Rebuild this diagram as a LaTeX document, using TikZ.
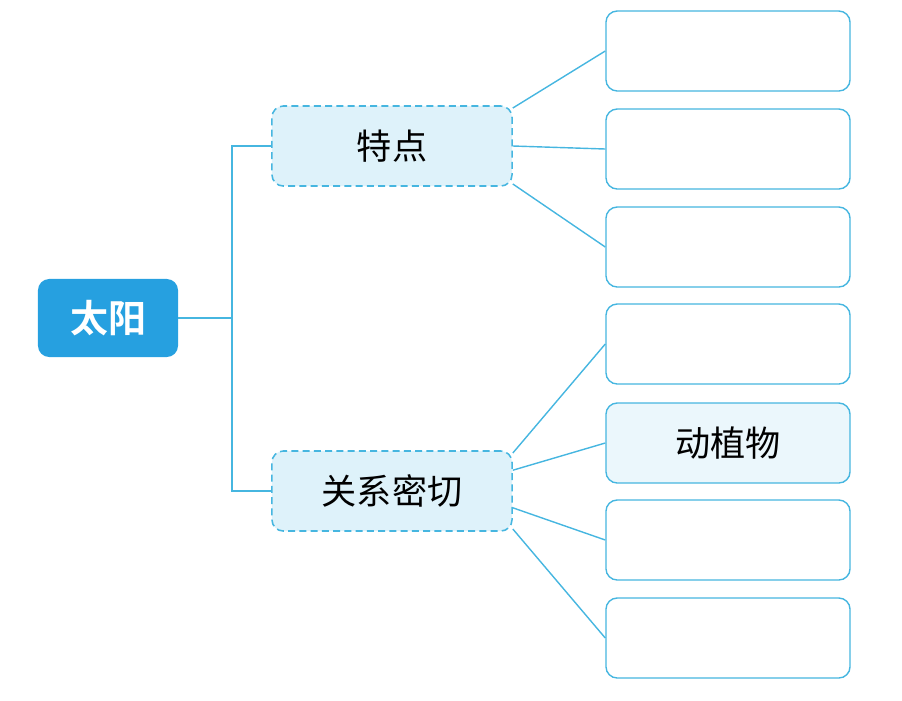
\documentclass[tikz,border=0pt]{standalone}
\usepackage{fontspec}
\newfontfamily\cjk{Noto Sans CJK SC}
\newfontfamily\cjkbold{Noto Sans CJK SC Bold}
\definecolor{sunblue}{RGB}{38, 160, 224}
\definecolor{linkblue}{RGB}{70, 182, 224}
\definecolor{paleblue}{RGB}{222, 242, 250}
\usetikzlibrary{positioning}

\begin{document}
\begin{tikzpicture}[x=0.025cm, y=-0.025cm,
  rootbox/.style={fill=sunblue, rounded corners=8pt, minimum width=3.5cm, minimum height=1.95cm, text=white, font=\cjkbold\fontsize{27}{32}\selectfont},
  topicbox/.style={draw=linkblue, dash pattern=on 5pt off 3pt, line width=1.1pt, fill=paleblue, rounded corners=8pt, minimum width=6cm, minimum height=2cm, font=\cjk\fontsize{25}{30}\selectfont},
  leafbox/.style={draw=linkblue, line width=1pt, fill=white, rounded corners=8pt, minimum width=6.1cm, minimum height=2cm, font=\cjk\fontsize{25}{30}\selectfont},
  link/.style={draw=linkblue, line width=1pt}
]
  \useasboundingbox (0,0) rectangle (902,700);
  % root and topics
  \node[rootbox] (sun) at (108, 318) {太阳};
  \node[topicbox] (traits) at (392, 146) {特点};
  \node[topicbox] (close) at (392, 491) {关系密切};
  % leaves
  \foreach \name/\yy in {t1/51, t2/149, t3/247, c1/344, c3/540, c4/638}
    \node[leafbox] (\name) at (728, \yy) {};
  \node[leafbox, fill=paleblue!60] (c2) at (728, 443) {动植物};
  % trunk
  \coordinate (trunk) at (232, 318);
  \draw[link] (sun.east) -- (trunk);
  \draw[link] (traits.west) -| (trunk) |- (close.west);
  % branches
  \draw[link] ([yshift=-2pt]traits.north east) -- (t1.west);
  \draw[link] (traits.east) -- (t2.west);
  \draw[link] ([yshift=2pt]traits.south east) -- (t3.west);
  \draw[link] ([yshift=-2pt]close.north east) -- (c1.west);
  \draw[link] ([yshift=-0.5cm]close.north east) -- (c2.west);
  \draw[link] ([yshift=0.6cm]close.south east) -- (c3.west);
  \draw[link] ([yshift=2pt]close.south east) -- (c4.west);
\end{tikzpicture}
\end{document}
